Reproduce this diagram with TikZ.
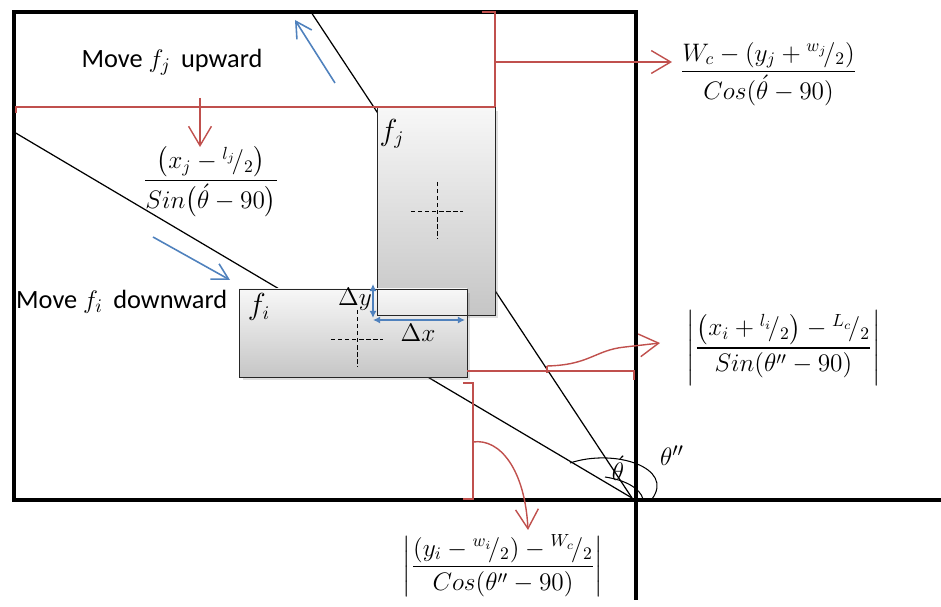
\documentclass[tikz,border=0pt]{standalone}
\usepackage{amsmath}
\usepackage{fontspec}
\setmainfont{Carlito}
\usetikzlibrary{arrows.meta,positioning,calc,shadows}
\definecolor{redline}{RGB}{192,80,77}
\definecolor{blueline}{RGB}{79,129,189}
\newcommand{\half}[1]{{}^{#1}\!/_{2}}

\begin{document}
\begin{tikzpicture}[x=0.02cm,y=-0.02cm,
  every node/.style={font=\fontsize{15}{17}\selectfont},
  frame/.style={line width=2.8pt},
  fbox/.style={draw=black!85, inner sep=0pt, outer sep=0pt, anchor=north west,
    top color=gray!6, bottom color=gray!45,
    drop shadow={opacity=0.25, shadow xshift=2pt, shadow yshift=-2pt}},
  redmark/.style={redline, line width=0.8pt},
  redarrow/.style={redmark, -{Straight Barb[length=11pt,width=13pt]}},
  bluearrow/.style={blueline, line width=0.9pt, -{Straight Barb[length=9pt,width=10pt]}},
  overlap/.style={blueline, line width=1.4pt, {Latex[length=4pt,width=4pt]}-{Latex[length=4pt,width=4pt]}},
  crossline/.style={line width=0.5pt, dash pattern=on 2.5pt off 1.5pt},
  formula/.style={font=\fontsize{14.5}{16}\selectfont}]
  \useasboundingbox (0,0) rectangle (941,607);
  \coordinate (corner) at (632,498);
  % diagonals to the corner
  \draw[line width=0.7pt] (14,132) -- (corner);
  \draw[line width=0.7pt] (311,12) -- (corner);
  % the two boxes
  \node[fbox, minimum width=2.36cm, minimum height=4.16cm] (fj) at (377,107) {};
  \node[fbox, minimum width=4.56cm, minimum height=1.76cm] (fi) at (239,289) {};
  \draw[black!85] (377,289) -- (377,315) -- (467,315);
  \node at (392,134) {\fontsize{16}{18}\selectfont$f_j$};
  \node at (259,307) {\fontsize{16}{18}\selectfont$f_i$};
  \foreach \cx/\cy in {437/211, 357/339} {
    \draw[crossline] (\cx-26,\cy) -- (\cx+26,\cy);
    \draw[crossline] (\cx,\cy-29) -- (\cx,\cy+28);
  }
  % frame
  \draw[frame] (636,600) -- (636,12) -- (14,12) -- (14,500) -- (941,500);
  % overlap
  \draw[overlap] (373,284) -- (373,318);
  \draw[overlap] (373,320) -- (465,320);
  \node at (355,299) {$\Delta y$};
  \node at (418,333) {$\Delta x$};
  % moves
  \node (upj) at (172,62) {Move $f_j$\, upward};
  \node[anchor=west] (downi) at (10,302) {Move $f_i$\, downward};
  \draw[bluearrow] (335,83) -- (295,20);
  \draw[bluearrow] (153,237) -- (230,280);
  % distances
  \node[formula, anchor=west] (topd) at (674,74)
    {$\dfrac{W_c - \left(y_j + \half{w_j}\right)}{Cos(\acute{\theta} - 90)}$};
  \node[formula] (leftd) at (211,182)
    {$\dfrac{\left(x_j - \half{l_j}\right)}{Sin\bigl(\acute{\theta} - 90\bigr)}$};
  \node[formula, anchor=west] (rightd) at (680,348)
    {$\left|\dfrac{\left(x_i + \half{l_i}\right) - \half{L_c}}{Sin(\theta'' - 90)}\right|$};
  \node[formula] (bottomd) at (503,566)
    {$\left|\dfrac{(y_i - \half{w_i}) - \half{W_c}}{Cos(\theta'' - 90)}\right|$};
  \draw[redmark] (16,113) -- (16,107) -- (495,107);
  \draw[redmark] (482,12) -- (495,12) -- (495,107);
  \draw[redmark] (495,62) -- (510,62);
  \draw[redarrow] (495,62) -- (672,62);
  \draw[redarrow] (200,98) -- (200,147);
  \draw[redmark] (467,371) -- (634,371) -- (634,380);
  \draw[redmark] (547,373) -- (547,366);
  \draw[redarrow] (547,366) .. controls (590,365) and (595,350) .. (625,347) -- (660,343);
  \draw[redmark] (463,383) -- (473,383) -- (473,499) -- (463,499);
  \draw[redarrow] (473,442) .. controls (500,438) and (525,470) .. (528,530);
  % angles
  \draw[line width=0.6pt] (570,463) .. controls (615,448) and (675,468) .. (652,499);
  \draw[line width=0.6pt] (605,477) .. controls (625,480) and (640,488) .. (643,499);
  \node at (618,468) {$\acute{\theta}$};
  \node at (672,456) {$\theta''$};
\end{tikzpicture}
\end{document}
